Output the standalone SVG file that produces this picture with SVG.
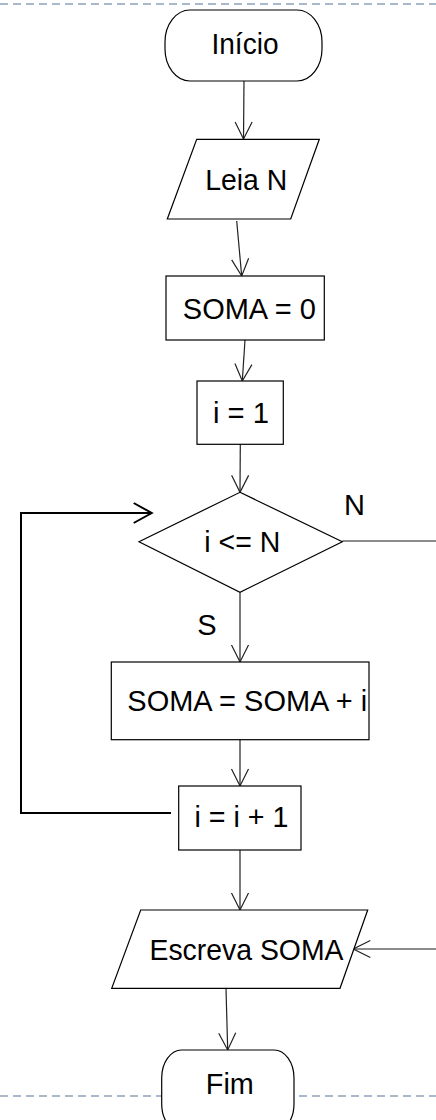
<svg xmlns="http://www.w3.org/2000/svg" width="436" height="1120" viewBox="0 0 436 1120">
<style>
.sh{fill:#fff;stroke:#000;stroke-width:1.2}
.t{font-family:"Liberation Sans",Arial,sans-serif;font-size:29px;fill:#000;text-anchor:middle}
.c{fill:none;stroke:#222;stroke-width:1.2}
.g{fill:none;stroke:#666;stroke-width:1.4}
.d{fill:none;stroke:#a7b9cb;stroke-width:2;stroke-dasharray:8 5}
</style>
<defs>
<marker id="a" markerUnits="userSpaceOnUse" markerWidth="20" markerHeight="20" viewBox="-19 -10 20 20" refX="0" refY="0" orient="auto" overflow="visible">
<path d="M-17,-8.5 L0,0 L-17,8.5" fill="none" stroke="#222" stroke-width="1.2"/>
</marker>
<marker id="b" markerUnits="userSpaceOnUse" markerWidth="22" markerHeight="22" viewBox="-20 -11 22 22" refX="0" refY="0" orient="auto" overflow="visible">
<path d="M-18,-10 L0,0 L-18,10" fill="none" stroke="#000" stroke-width="2"/>
</marker>
</defs>
<line class="d" x1="0" y1="4" x2="436" y2="4"/>
<line class="d" x1="0" y1="1096" x2="436" y2="1096"/>
<g id="connectors">
<line class="c" x1="244" y1="81" x2="243.5" y2="139" marker-end="url(#a)"/>
<line class="c" x1="236.7" y1="221" x2="241.7" y2="276" marker-end="url(#a)"/>
<line class="c" x1="245" y1="340" x2="242.3" y2="381" marker-end="url(#a)"/>
<line class="c" x1="240.3" y1="444.3" x2="240" y2="492.3" marker-end="url(#a)"/>
<line class="c" x1="240" y1="592.3" x2="240" y2="662" marker-end="url(#a)"/>
<line class="c" x1="240" y1="739.7" x2="240" y2="786" marker-end="url(#a)"/>
<line class="c" x1="240" y1="850" x2="240" y2="910" marker-end="url(#a)"/>
<line class="c" x1="226" y1="988.3" x2="227.7" y2="1050" marker-end="url(#a)"/>
<polyline points="171,813 21,813 21,513 151.7,513" fill="none" stroke="#000" stroke-width="2" marker-end="url(#b)"/>
<line class="g" x1="342.3" y1="541" x2="436" y2="541"/>
<line class="g" x1="436" y1="949" x2="353.3" y2="949" marker-end="url(#a)"/>
</g>
<g id="inicio">
<rect class="sh" x="165" y="10" width="157" height="71" rx="25" ry="32"/>
<text class="t" x="245" y="54" textLength="67" lengthAdjust="spacingAndGlyphs">Início</text>
</g>
<g id="leia">
<polygon class="sh" points="196.7,139.3 319.3,139.3 290.7,219 167.3,219"/>
<text class="t" x="246.2" y="190" textLength="82" lengthAdjust="spacingAndGlyphs">Leia N</text>
</g>
<g id="soma0">
<rect class="sh" x="166" y="276" width="158.3" height="64"/>
<text class="t" x="249.3" y="319.3" textLength="133" lengthAdjust="spacingAndGlyphs">SOMA = 0</text>
</g>
<g id="i1">
<rect class="sh" x="197" y="381" width="86.3" height="63.3"/>
<text class="t" x="241" y="422.7" textLength="56" lengthAdjust="spacingAndGlyphs">i = 1</text>
</g>
<g id="cond">
<polygon class="sh" points="240,492.3 342.3,541.7 240,592.3 139,541.7"/>
<text class="t" x="242.3" y="551.7" textLength="76" lengthAdjust="spacingAndGlyphs">i &lt;= N</text>
</g>
<text id="lblN" class="t" x="354.5" y="515">N</text>
<text id="lblS" class="t" x="207" y="635">S</text>
<g id="somai">
<rect class="sh" x="111.3" y="662" width="257.7" height="77.7"/>
<text class="t" x="247.3" y="711" textLength="240" lengthAdjust="spacingAndGlyphs">SOMA = SOMA + i</text>
</g>
<g id="inc">
<rect class="sh" x="178.7" y="786" width="122.3" height="64"/>
<text class="t" x="241.5" y="826.7" textLength="94" lengthAdjust="spacingAndGlyphs">i = i + 1</text>
</g>
<g id="escreva">
<polygon class="sh" points="140.7,910 367.7,910 340,988.3 111.7,988.3"/>
<text class="t" x="246.5" y="960" textLength="194" lengthAdjust="spacingAndGlyphs">Escreva SOMA</text>
</g>
<g id="fim">
<rect class="sh" x="161.7" y="1050" width="132.3" height="82" rx="20" ry="28"/>
<text class="t" x="229.8" y="1094.3" textLength="48" lengthAdjust="spacingAndGlyphs">Fim</text>
</g>
</svg>
